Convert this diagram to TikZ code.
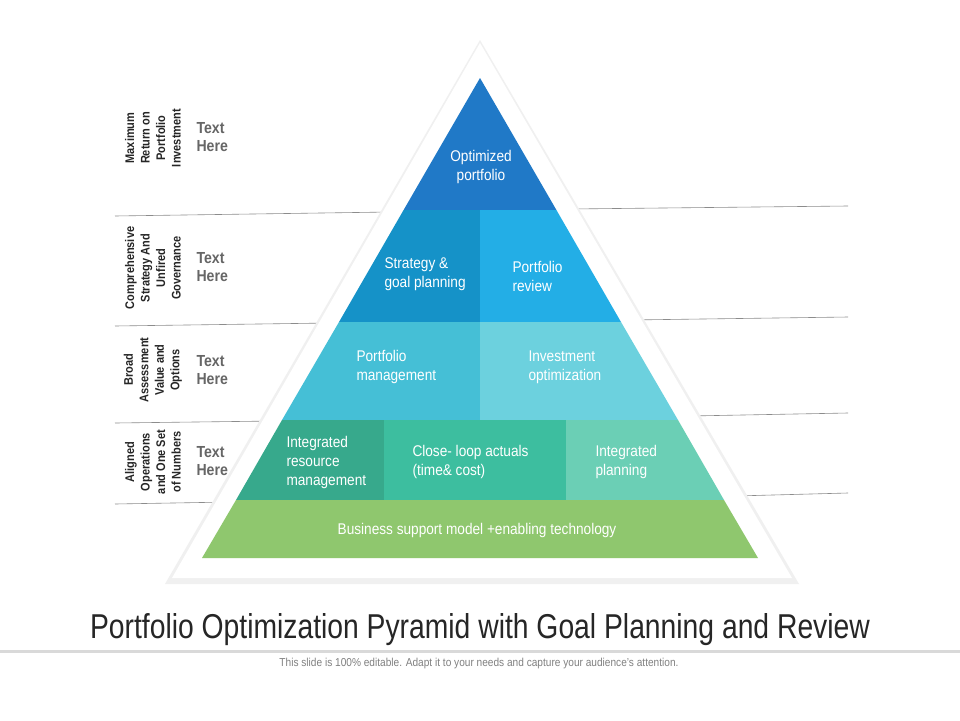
\documentclass[tikz,border=0pt]{standalone}
\usepackage{fontspec}
\setmainfont{Liberation Sans}[FakeStretch=0.88]
\newfontfamily\titlefont{Liberation Sans}[FakeStretch=0.82]
\begin{document}
\begin{tikzpicture}[x=1pt,y=-1pt,
  lbl/.style={text=white,font=\fontsize{15.5}{19}\selectfont,align=left,anchor=center},
  side/.style={rotate=90,font=\bfseries\fontsize{12.5}{15.5}\selectfont,align=center,text=black!85},
  th/.style={font=\bfseries\fontsize{16}{18}\selectfont,text=black!60,align=left,anchor=west},
  guide/.style={draw=black!45,line width=0.6pt}]
\definecolor{c1}{HTML}{2079C7}
\definecolor{c2a}{HTML}{1592C8}
\definecolor{c2b}{HTML}{23AEE6}
\definecolor{c3a}{HTML}{45BFD6}
\definecolor{c3b}{HTML}{6CD1DE}
\definecolor{c4a}{HTML}{37A98C}
\definecolor{c4b}{HTML}{3DBE9F}
\definecolor{c4c}{HTML}{6BCFB5}
\definecolor{c5}{HTML}{8FC76E}
\fill[white] (0,0) rectangle (960,720);
\useasboundingbox (0,0) rectangle (960,720);
% guide lines
\coordinate (l1a) at (115,216); \coordinate (l1b) at (390,212);
\coordinate (l2a) at (115,326); \coordinate (l2b) at (330,323);
\coordinate (l3a) at (115,423); \coordinate (l3b) at (275,421);
\coordinate (l4a) at (115,504); \coordinate (l4b) at (230,502);
\coordinate (r1a) at (570,209); \coordinate (r1b) at (848,206);
\coordinate (r2a) at (630,320); \coordinate (r2b) at (848,317);
\coordinate (r3a) at (690,416); \coordinate (r3b) at (848,413);
\coordinate (r4a) at (735,496); \coordinate (r4b) at (848,493);
\foreach \p in {l1,l2,l3,l4,r1,r2,r3,r4} \draw[guide] (\p a) -- (\p b);
% outer triangle with shadow
\fill[black!12] (480,44) -- (796,582) -- (168,582) -- cycle;
\fill[black!6] (480,40) -- (799,584) -- (165,584) -- cycle;
\fill[white] (480,43) -- (792,578) -- (172,578) -- cycle;
% segments
\fill[c1] (480,78) -- (556.4,210) -- (403.6,210) -- cycle;
\fill[c2a] (403.6,210) -- (480,210) -- (480,322) -- (339,322) -- cycle;
\fill[c2b] (480,210) -- (556.4,210) -- (621,322) -- (480,322) -- cycle;
\fill[c3a] (339,322) -- (480,322) -- (480,420) -- (282,420) -- cycle;
\fill[c3b] (480,322) -- (621,322) -- (678,420) -- (480,420) -- cycle;
\fill[c4a] (282,420) -- (384,420) -- (384,500) -- (236,500) -- cycle;
\fill[c4b] (384,420) -- (566,420) -- (566,500) -- (384,500) -- cycle;
\fill[c4c] (566,420) -- (678,420) -- (724,500) -- (566,500) -- cycle;
\fill[c5] (236,500) -- (724,500) -- (758,558) -- (202,558) -- cycle;
% texts
\node[lbl,align=center] (t1) at (481,167) {Optimized\\portfolio};
\node[lbl,anchor=west] (t2) at (381,274) {Strategy \&\\goal planning};
\node[lbl,anchor=west] (t3) at (509,276) {Portfolio\\review};
\node[lbl,anchor=west] (t4) at (353,367) {Portfolio\\management};
\node[lbl,anchor=west] (t5) at (525,367) {Investment\\optimization};
\node[lbl,anchor=west] (t6) at (283,462) {Integrated\\resource\\management};
\node[lbl,anchor=west] (t7) at (409,462) {Close- loop actuals\\(time\& cost)};
\node[lbl,anchor=west] (t8) at (592,462) {Integrated\\planning};
\node[lbl] (t9) at (477,530) {Business support model +enabling technology};
% side labels
\node[side] (s1) at (153,138) {Maximum\\Return on\\Portfolio\\Investment};
\node[side] (s2) at (153,268) {Comprehensive\\Strategy And\\Unfired\\Governance};
\node[side] (s3) at (153,370) {Broad\\Assessment\\Value and\\Options};
\node[side] (s4) at (153,462) {Aligned\\Operations\\and One Set\\of Numbers};
\node[th] (h1) at (193,137) {Text\\Here};
\node[th] (h2) at (193,267) {Text\\Here};
\node[th] (h3) at (193,370) {Text\\Here};
\node[th] (h4) at (193,461) {Text\\Here};
% title
\node[font=\titlefont\fontsize{34.5}{36}\selectfont,text=black!85] (title) at (480,630) {Portfolio Optimization Pyramid with Goal Planning and Review};
\fill[black!15] (0,650) rectangle (960,652.5);
\node[font=\fontsize{11.5}{12}\selectfont,text=black!50] (sub) at (479,664) {This slide is 100\% editable. Adapt it to your needs and capture your audience's attention.};
\end{tikzpicture}
\end{document}
